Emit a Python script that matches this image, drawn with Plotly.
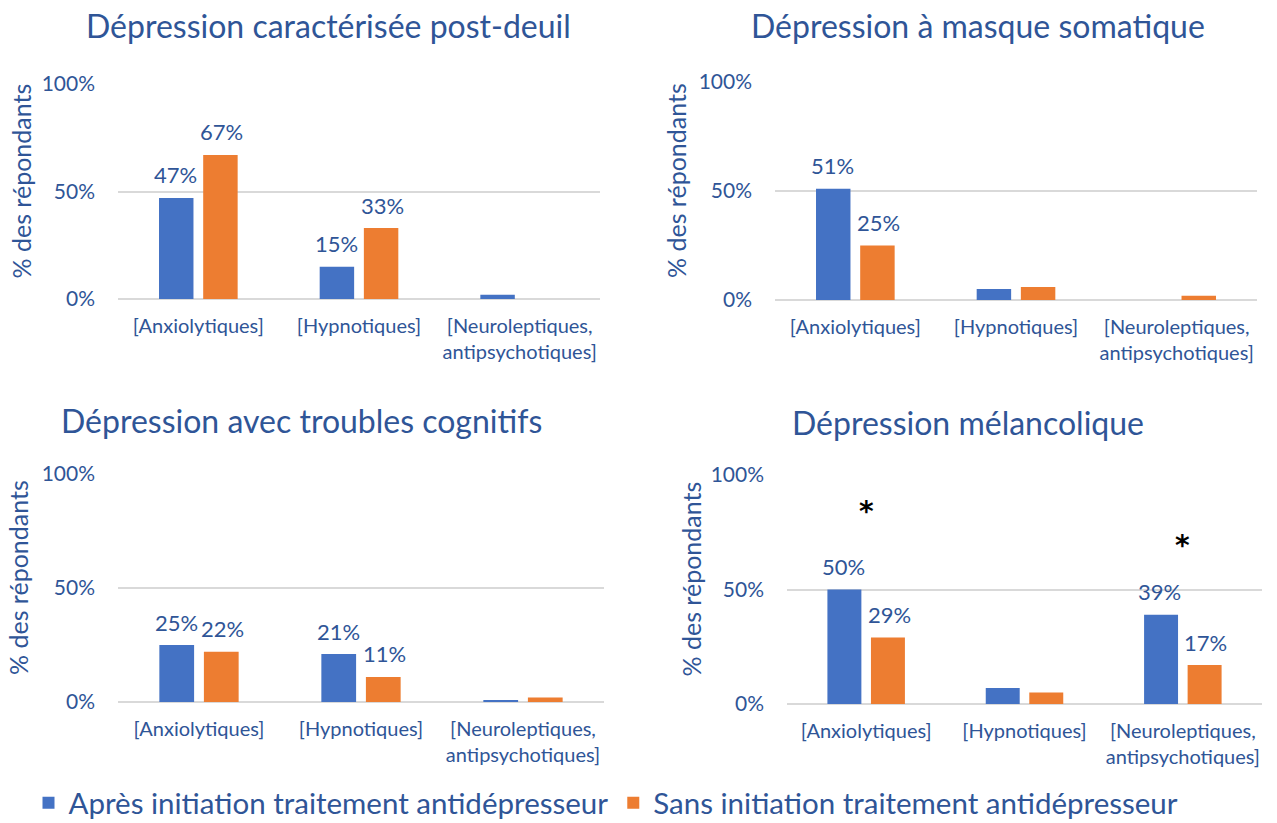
import plotly.graph_objects as go

W, H = 1277, 823

categories = ["[Anxiolytiques]", "[Hypnotiques]", "[Neuroleptiques,<br>antipsychotiques]"]
series_names = ["Après initiation traitement antidépresseur", "Sans initiation traitement antidépresseur"]

titles = [
    "Dépression caractérisée post-deuil",
    "Dépression à masque somatique",
    "Dépression avec troubles cognitifs",
    "Dépression mélancolique",
]

# values (fractions)
apres = [
    [0.47, 0.15, 0.02],
    [0.51, 0.05, 0.00],
    [0.25, 0.21, 0.005],
    [0.50, 0.07, 0.39],
]
sans = [
    [0.67, 0.33, 0.00],
    [0.25, 0.06, 0.02],
    [0.22, 0.11, 0.02],
    [0.29, 0.05, 0.17],
]
# which values carry a data label
show_apres = [
    [True, True, False],
    [True, False, False],
    [True, True, False],
    [True, False, True],
]
show_sans = [
    [True, True, False],
    [True, False, False],
    [True, True, False],
    [True, False, True],
]
# significance stars (panel 4)
stars = [None, None, None, ["*", "", "*"]]
star_y = [None, None, None, [0.84, None, 0.69]]

tick_vals = [0, 0.5, 1.0]
tick_text = ["0%", "50%", "100%"]

BLUE = "#4472C4"
ORANGE = "#ED7D31"
TEXT = "#2F5597"
GRID = "#D9D9D9"
FONT = "Lato"

# pixel boxes of plot areas: (x0, x1, ytop, ybottom)
boxes = [
    (118, 600, 84, 299),
    (775, 1257, 82, 300),
    (118, 604, 474, 702),
    (787, 1262, 475, 704),
]
title_pos = [(328, 25), (978, 25), (301, 420), (968, 422)]
ytitle_x = [20, 676, 18, 690]

fig = go.Figure()
annotations = []

for i in range(4):
    ax = "" if i == 0 else str(i + 1)
    xa, ya = "x" + ax, "y" + ax
    fig.add_trace(go.Bar(x=categories, y=apres[i], name=series_names[0], marker_color=BLUE,
                         xaxis=xa, yaxis=ya, showlegend=(i == 0), marker_line_width=0))
    fig.add_trace(go.Bar(x=categories, y=sans[i], name=series_names[1], marker_color=ORANGE,
                         xaxis=xa, yaxis=ya, showlegend=(i == 0), marker_line_width=0))
    x0, x1, yt, yb = boxes[i]
    fig.layout["xaxis" + ax] = dict(
        domain=[x0 / W, x1 / W], anchor=ya, showgrid=False, showline=False, zeroline=False,
        ticks="", tickfont=dict(family=FONT, size=20, color=TEXT), ticklabelstandoff=13,
        fixedrange=True,
    )
    fig.layout["yaxis" + ax] = dict(
        domain=[1 - yb / H, 1 - yt / H], anchor=xa, range=[0, 1], tickvals=tick_vals,
        ticktext=tick_text, showgrid=True, gridcolor=GRID, gridwidth=2, zeroline=True,
        zerolinecolor=GRID, zerolinewidth=2, showline=False, ticks="",
        tickfont=dict(family=FONT, size=21, color=TEXT), ticklabelstandoff=22,
    )
    # data labels
    for j, c in enumerate(categories):
        if show_apres[i][j]:
            annotations.append(dict(x=c, y=apres[i][j], xref=xa, yref=ya, text=f"{round(apres[i][j]*100)}%",
                                    showarrow=False, xshift=-23, yshift=23, yanchor="middle",
                                    font=dict(family=FONT, size=22, color=TEXT)))
        if show_sans[i][j]:
            annotations.append(dict(x=c, y=sans[i][j], xref=xa, yref=ya, text=f"{round(sans[i][j]*100)}%",
                                    showarrow=False, xshift=23, yshift=23, yanchor="middle",
                                    font=dict(family=FONT, size=22, color=TEXT)))
        if stars[i] and stars[i][j]:
            annotations.append(dict(x=c, y=star_y[i][j], xref=xa, yref=ya, text=f"<b>{stars[i][j]}</b>",
                                    showarrow=False, yanchor="middle",
                                    font=dict(family="DejaVu Sans", size=28, color="black")))
    # title
    tx, ty = title_pos[i]
    annotations.append(dict(x=tx / W, y=1 - ty / H, xref="paper", yref="paper", text=titles[i],
                            showarrow=False, xanchor="center", yanchor="middle",
                            font=dict(family=FONT, size=32, color=TEXT)))
    # y-axis title
    annotations.append(dict(x=ytitle_x[i] / W, y=1 - ((yt + yb) / 2 - 10) / H, xref="paper", yref="paper",
                            text="% des répondants", textangle=-90, showarrow=False,
                            xanchor="center", yanchor="middle",
                            font=dict(family=FONT, size=25, color=TEXT)))

fig.update_layout(
    width=W, height=H, margin=dict(l=0, r=0, t=0, b=0, autoexpand=False),
    paper_bgcolor="white", plot_bgcolor="white",
    barmode="group", bargap=0.45, bargroupgap=0.22,
    annotations=annotations,
    legend=dict(orientation="h", x=606 / W, xanchor="center", y=1 - 803 / H, yanchor="middle",
                font=dict(family=FONT, size=29.5, color=TEXT), itemwidth=30, tracegroupgap=0),
    font=dict(family=FONT, color=TEXT),
)

fig.write_html("out.html", config={"displayModeBar": False},
               post_script="document.body.style.margin='0';")
